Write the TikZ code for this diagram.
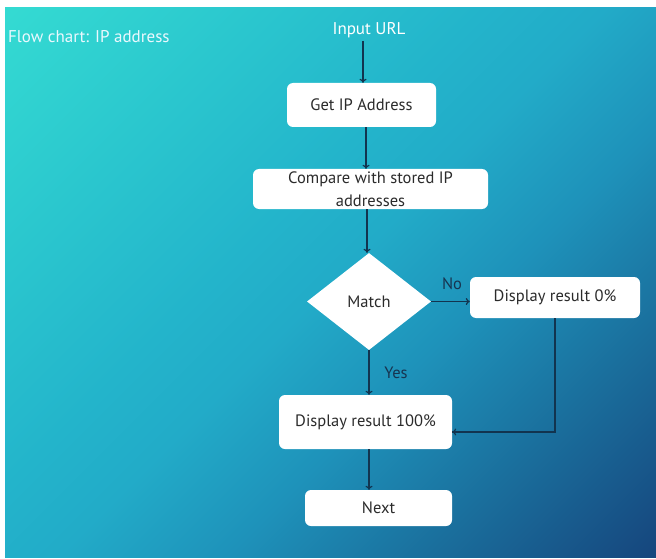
\documentclass[tikz,border=0pt]{standalone}
\usepackage{fontspec}
\setmainfont{PT Sans}
\usetikzlibrary{arrows.meta,shapes.geometric}

\definecolor{bgA}{HTML}{34DAD2}
\definecolor{bgB}{HTML}{2AC6CE}
\definecolor{bgC}{HTML}{23B4CB}
\definecolor{bgD}{HTML}{22ABC8}
\definecolor{bgE}{HTML}{1E92BA}
\definecolor{bgF}{HTML}{1A6E9C}
\definecolor{bgG}{HTML}{16477E}
\definecolor{edgecol}{HTML}{12344F}
\definecolor{textdark}{HTML}{2B2B2B}
\definecolor{labelcol}{HTML}{173450}

% diagonal background: turquoise top left to dark blue bottom right
\pgfdeclarehorizontalshading{bgshade}{100bp}{%
  color(0bp)=(bgA); color(15bp)=(bgA); color(30bp)=(bgB); color(43bp)=(bgC);
  color(50bp)=(bgD); color(60bp)=(bgE); color(72bp)=(bgF); color(85bp)=(bgG);
  color(100bp)=(bgG)}

\tikzset{
  basefont/.style={font=\fontsize{16.5}{23}\selectfont},
  box/.style={basefont, rectangle, rounded corners=6pt, fill=white, draw=none,
    text=textdark, align=center, inner sep=0pt},
  decision/.style={basefont, diamond, fill=white, draw=none, text=textdark,
    inner sep=0pt},
  whitetext/.style={font=\fontsize{17}{20}\selectfont, text=white, inner sep=0pt},
  arr/.style={draw=edgecol, line width=1.2pt, -{To[length=4pt,width=7pt]}},
  plain/.style={draw=edgecol, line width=1.2pt},
  edgelabel/.style={basefont, text=labelcol, inner sep=0pt}
}

\begin{document}
\begin{tikzpicture}[x=1pt,y=-1pt]
\useasboundingbox (0,0) rectangle (656,559);
\fill[white] (0,0) rectangle (656,559);
\shade[shading=bgshade, shading angle=-45] (5,8) rectangle (656,557);

% title
\node[whitetext, anchor=west, text=white!92!cyan] (title) at (8,37) {Flow chart: IP address};

% nodes
\node[whitetext] (inurl) at (369,30) {Input URL};
\node[box, minimum width=149pt, minimum height=44pt] (get) at (361.5,105) {Get IP Address};
\node[box, minimum width=235pt, minimum height=40pt] (cmp) at (370.5,189)
  {Compare with stored IP\\addresses};
\node[decision, minimum width=124pt, minimum height=97pt] (match) at (369,301.5) {Match};
\node[box, minimum width=170pt, minimum height=41pt] (r0) at (555,297.5) {Display result 0\%};
\node[box, minimum width=173pt, minimum height=54pt] (r100) at (365.5,422) {Display result 100\%};
\node[box, minimum width=147pt, minimum height=36pt] (next) at (378.5,508) {Next};

% connectors
\draw[arr] ([xshift=-6pt,yshift=-3pt]inurl.south) -- ([xshift=1.5pt]get.north);
\draw[arr] ([xshift=4.5pt]get.south) -- ([xshift=-4.5pt]cmp.north);
\draw[arr] ([xshift=-3.5pt]cmp.south) -- ([xshift=-3.5pt]cmp.south |- match.north);
\draw[arr] (match.east) -- (match.east -| r0.west);
\draw[arr] (match.south) -- (match.south |- r100.north);
\draw[plain] (r0.south) |- ([yshift=-10pt]r100.east);
\draw[arr] ([yshift=-10pt]r0.south |- r100.east) -- ([yshift=-10pt]r100.east);
\draw[arr] ([xshift=3.5pt]r100.south) -- ([xshift=3.5pt]r100.south |- next.north);

% branch labels
\node[edgelabel] (nolbl) at (452,284) {No};
\node[edgelabel] (yeslbl) at (396,373) {Yes};
\end{tikzpicture}
\end{document}
